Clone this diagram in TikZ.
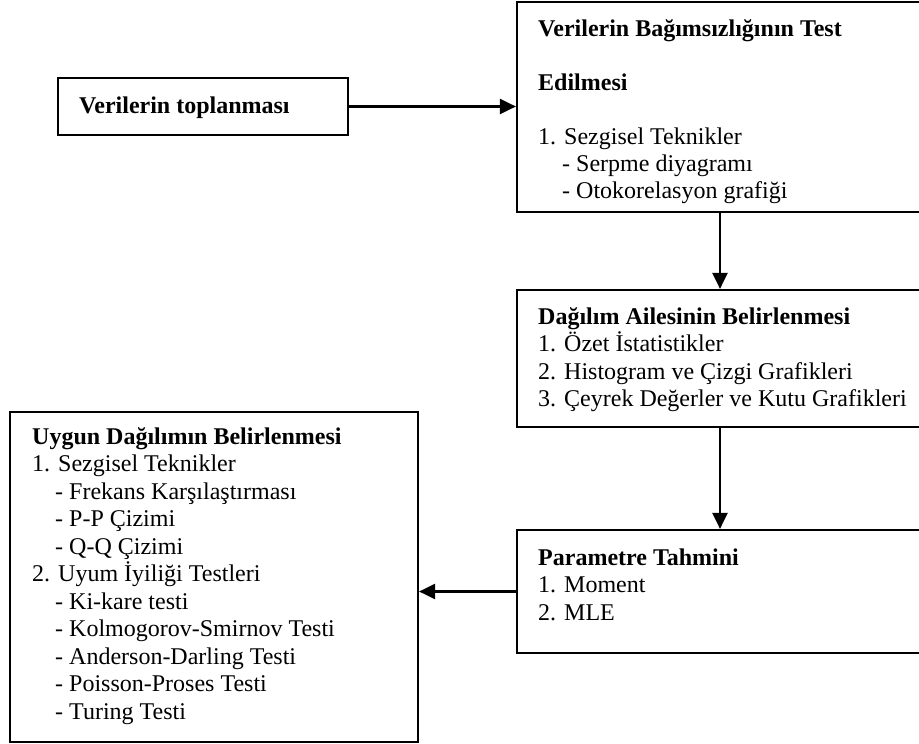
\documentclass[tikz,border=0pt]{standalone}
\usepackage{fontspec}
\setmainfont{Liberation Serif}
\usetikzlibrary{arrows.meta}
\begin{document}
\begin{tikzpicture}[x=1pt,y=-1pt,
  box/.style={draw, line width=2.2pt, rectangle, inner sep=0pt},
  txt/.style={anchor=base west, inner sep=0pt, font=\fontsize{24}{27.5}\selectfont},
  hd/.style={anchor=base west, inner sep=0pt, font=\fontsize{24}{27.5}\selectfont\bfseries},
  flow/.style={line width=2.2pt, -{Triangle[length=16pt,width=15pt]}}]
\useasboundingbox (0,0) rectangle (919,744);

% boxes
\node[box, minimum width=290pt, minimum height=57pt]  (b1) at (203,106.5) {};
\node[box, minimum width=413pt, minimum height=210pt] (b2) at (723.5,107) {};
\node[box, minimum width=413pt, minimum height=137pt] (b3) at (723.5,358.5) {};
\node[box, minimum width=413pt, minimum height=123pt] (b4) at (723.5,591.5) {};
\node[box, minimum width=408pt, minimum height=330pt] (b5) at (214,577) {};
\coordinate (col) at (720,0);

% collecting data
\node[hd] (t1) at (79,113) {Verilerin toplanması};

% independence test
\node[hd]  (t2a) at (538,36)  {Verilerin Bağımsızlığının Test};
\node[hd]  (t2b) at (538,90)  {Edilmesi};
\node[txt] (t2c) at (538,144) {1. Sezgisel Teknikler};
\node[txt] (t2d) at (562,171) {- Serpme diyagramı};
\node[txt] (t2e) at (562,198) {- Otokorelasyon grafiği};

% distribution family
\node[hd]  (t3a) at (538,324)   {Dağılım Ailesinin Belirlenmesi};
\node[txt] (t3b) at (538,351.5) {1. Özet İstatistikler};
\node[txt] (t3c) at (538,379)   {2. Histogram ve Çizgi Grafikleri};
\node[txt] (t3d) at (538,406.5) {3. Çeyrek Değerler ve Kutu Grafikleri};

% parameter estimation
\node[hd]  (t4a) at (538,565)   {Parametre Tahmini};
\node[txt] (t4b) at (538,592.5) {1. Moment};
\node[txt] (t4c) at (538,620)   {2. MLE};

% fitting distribution
\node[hd]  (t5a) at (32,444)   {Uygun Dağılımın Belirlenmesi};
\node[txt] (t5b) at (32,471.5) {1. Sezgisel Teknikler};
\node[txt] (t5c) at (55,499)   {- Frekans Karşılaştırması};
\node[txt] (t5d) at (55,526.5) {- P-P Çizimi};
\node[txt] (t5e) at (55,554)   {- Q-Q Çizimi};
\node[txt] (t5f) at (32,581.5) {2. Uyum İyiliği Testleri};
\node[txt] (t5g) at (55,609)   {- Ki-kare testi};
\node[txt] (t5h) at (55,636.5) {- Kolmogorov-Smirnov Testi};
\node[txt] (t5i) at (55,664)   {- Anderson-Darling Testi};
\node[txt] (t5j) at (55,691.5) {- Poisson-Proses Testi};
\node[txt] (t5k) at (55,719)   {- Turing Testi};

% connectors
\draw[flow] (b1.east) -- (b2.west |- b1.east);
\draw[flow] (b2.south -| col) -- (b3.north -| col);
\draw[flow] (b3.south -| col) -- (b4.north -| col);
\draw[flow] (b4.west) -- (b5.east |- b4.west);
\end{tikzpicture}
\end{document}
